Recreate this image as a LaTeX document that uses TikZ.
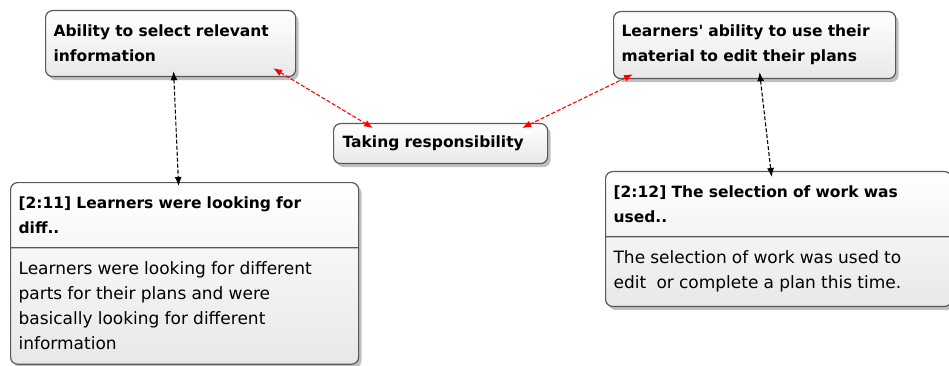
\documentclass[tikz,border=0pt]{standalone}
\usepackage{fontspec}
\setmainfont{DejaVu Sans}
\usetikzlibrary{arrows.meta,shadows,shapes.multipart,calc}

\tikzset{
  codebox/.style={draw=black!65, line width=1.2pt, rounded corners=7pt,
    top color=white, bottom color=black!9, anchor=north west,
    drop shadow={shadow xshift=3pt, shadow yshift=-3.5pt, opacity=0.5},
    align=left, inner xsep=8pt, inner ysep=7pt,
    font=\fontsize{15.5}{25}\selectfont\bfseries},
  quotebox/.style={codebox, rectangle split, rectangle split parts=2,
    rectangle split draw splits=true, inner ysep=13.5pt},
  linkarrow/.style={{Latex[length=9pt,width=7pt]}-{Latex[length=9pt,width=7pt]},
    line width=1.1pt, dash pattern=on 4pt off 2pt},
}
\newcommand{\quotetext}{\fontsize{17}{25}\selectfont\mdseries}

\begin{document}
\begin{tikzpicture}[x=1pt,y=-1pt]
  \useasboundingbox (0,0) rectangle (949,366);

  \node[codebox, text width=234pt, minimum height=66pt] (ability) at (45,10)
    {Ability to select relevant\\information};
  \node[codebox, text width=196pt, minimum height=40pt, inner xsep=9pt] (resp) at (333,123)
    {Taking responsibility};
  \node[codebox, text width=266pt, minimum height=67pt] (material) at (613,11)
    {Learners\textquotesingle{} ability to use their\\material to edit their plans};

  \node[quotebox, text width=332pt] (q11) at (10,182)
    {[2:11] Learners were looking for\\diff..
     \nodepart{two}\quotetext Learners were looking for different\\parts for their plans and were\\basically looking for different\\information};
  \node[quotebox, text width=330pt] (q12) at (605,171)
    {[2:12] The selection of work was\\used..
     \nodepart{two}\quotetext The selection of work was used to\\edit\ \ or complete a plan this time.};

  % links
  \draw[linkarrow, black] ([xshift=3pt,yshift=6pt]ability.south) -- ([xshift=-6pt,yshift=-4pt]q11.north);
  \draw[linkarrow, black] ([xshift=5pt,yshift=7pt]material.south) -- ([xshift=-7pt,yshift=-6pt]q12.north);
  \draw[linkarrow, red] ([xshift=-23pt,yshift=9pt]ability.south east) -- ([xshift=40pt,yshift=-5pt]resp.north west);
  \draw[linkarrow, red] ([xshift=-26pt,yshift=-5pt]resp.north east) -- ([xshift=20pt,yshift=5pt]material.south west);
\end{tikzpicture}
\end{document}
